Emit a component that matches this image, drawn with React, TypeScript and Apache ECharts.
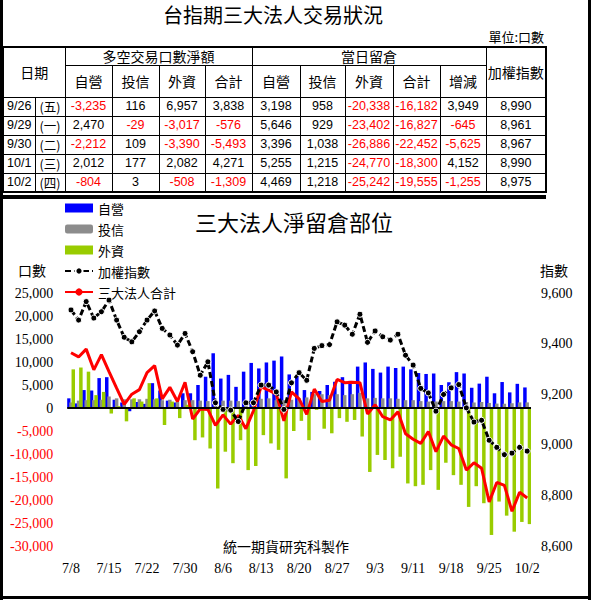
import React, { useEffect, useRef } from 'react';
import * as echarts from 'echarts';

// ---------- table data (top) ----------
const tableDates = ['9/26', '9/29', '9/30', '10/1', '10/2'];
const tableWeekdays = ['(五)', '(一)', '(二)', '(三)', '(四)'];
const netDealer = [-3235, 2470, -2212, 2012, -804];
const netTrust = [116, -29, 109, 177, 3];
const netForeign = [6957, -3017, -3390, 2082, -508];
const netTotal = [3838, -576, -5493, 4271, -1309];
const oiDealer = [3198, 5646, 3396, 5255, 4469];
const oiTrust = [958, 929, 1038, 1215, 1218];
const oiForeign = [-20338, -23402, -26886, -24770, -25242];
const oiTotal = [-16182, -16827, -22452, -18300, -19555];
const oiChange = [3949, -645, -5625, 4152, -1255];
const taiexClose = [8990, 8961, 8967, 8990, 8975];

// ---------- chart data ----------
const chartDates = [
  '7/8', '7/9', '7/10', '7/11', '7/14', '7/15', '7/16', '7/17', '7/18', '7/21',
  '7/22', '7/24', '7/25', '7/28', '7/29', '7/30', '7/31', '8/1', '8/4', '8/5',
  '8/6', '8/7', '8/8', '8/11', '8/12', '8/13', '8/14', '8/15', '8/18', '8/19',
  '8/20', '8/21', '8/22', '8/25', '8/26', '8/27', '8/28', '8/29', '9/1', '9/2',
  '9/3', '9/4', '9/5', '9/9', '9/10', '9/11', '9/12', '9/15', '9/16', '9/17',
  '9/18', '9/19', '9/22', '9/23', '9/24', '9/25', '9/26', '9/29', '9/30', '10/1',
  '10/2',
];
const dealerEarly = [
  2100, 1000, 3900, 3800, 6500, 6700, 1800, 1200, -700, 1300,
  900, 5400, 3800, 1600, 1200, 3200, 3200, 5000, 6800, 11900,
  6400, 7200, 4600, 7900, 9800, 8600, 9900, 10300, 11200, 7300,
  7000, 3900, 3500, 3700, 5000, 5700, 6700, 5900, 9000, 9900,
  8500, 7700, 9000, 8700, 9000, 8400, 7600, 7400, 7500, 5000,
  5600, 7800, 7500, 4400, 5300, 6800,
];
const trustEarly = [
  1200, 1600, 1700, 1700, 1800, 2500, 2100, 1900, 1900, 1900,
  2000, 1900, 1700, 1800, 1300, 1700, 1700, 1600, 1500, 1400,
  1600, 1600, 1500, 1600, 1700, 2000, 2100, 1700, 1700, 1800,
  2100, 2300, 3000, 3000, 2800, 3000, 2800, 3000, 3300, 2100,
  2200, 2100, 2100, 2000, 1700, 1700, 1500, 1400, 1400, 1500,
  1500, 1400, 1300, 1200, 1300, 1100,
];
const foreignEarly = [
  8400, 8800, 7900, 2800, 3500, -1200, 400, -2900, 2100, 1400,
  5400, 2100, -3700, 1400, -2200, 700, -7000, -6400, -8800, -17500,
  -9500, -12000, -7000, -13500, -12600, -5900, -7700, -9100, -15300, -5000,
  -2800, -7000, -400, -4500, -5500, -2200, -3000, -2600, -6200, -13900,
  -10200, -11300, -13100, -10600, -16400, -17000, -16700, -13500, -17800, -11900,
  -14600, -16700, -21500, -17000, -20700, -27600,
];
const totalEarly = [
  12000, 11100, 12800, 8300, 11600, 7900, 4300, 800, 3000, 4000,
  7700, 9200, 2000, 4500, 1400, 5600, -2400, -200, -300, -3800,
  -1500, -3500, -1600, -4500, -600, 4600, 3900, 3000, -2800, 3500,
  2000, -1400, 4100, 1400, 1700, 6200, 5500, 5600, 5500, -1300,
  700, -1900, -2600, -800, -5600, -6800, -7700, -5100, -9500, -6100,
  -8000, -8800, -13500, -11900, -13100, -20400,
];
const taiexEarly = [
  9533, 9493, 9566, 9501, 9526, 9572, 9493, 9425, 9407, 9447,
  9493, 9529, 9460, 9434, 9394, 9440, 9368, 9275, 9328, 9166,
  9140, 9137, 9092, 9166, 9166, 9236, 9236, 9209, 9140, 9245,
  9285, 9255, 9381, 9392, 9396, 9486, 9473, 9437, 9516, 9405,
  9450, 9427, 9414, 9437, 9354, 9315, 9223, 9205, 9133, 9199,
  9225, 9238, 9146, 9090, 9097, 9018,
];
const dealerSeries = [...dealerEarly, ...oiDealer];
const trustSeries = [...trustEarly, ...oiTrust];
const foreignSeries = [...foreignEarly, ...oiForeign];
const totalSeries = [...totalEarly, ...oiTotal];
const taiexSeries = [...taiexEarly, ...taiexClose];

const CJK = '"Noto Sans CJK TC", "Noto Sans CJK SC", sans-serif';
const NUM = '"Liberation Sans", Arial, sans-serif';
const SERIF = '"Liberation Serif", "Times New Roman", serif';

const fmt = (v: number) => v.toLocaleString('en-US');
const colWidths = [32, 30, 47, 47, 46, 47, 48, 45, 48, 47, 46, 60];

const cell: React.CSSProperties = {
  border: '1px solid #000',
  padding: 0,
  textAlign: 'center',
  fontSize: 13,
  lineHeight: '15px',
  overflow: 'hidden',
  whiteSpace: 'nowrap',
};

function NumCell({ v, color }: { v: number; color?: string }) {
  return (
    <td style={{ ...cell, fontFamily: NUM, fontSize: 12.5, color: color ?? (v < 0 ? '#ff0000' : '#000') }}>
      {fmt(v)}
    </td>
  );
}

function TopTable() {
  return (
    <>
      <div
        style={{
          position: 'absolute', left: 0, top: 2, width: 546, height: 26, lineHeight: '26px',
          textAlign: 'center', fontFamily: CJK, fontSize: 20, color: '#000',
        }}
      >
        台指期三大法人交易狀況
      </div>
      <div
        style={{
          position: 'absolute', right: 593 - 544, top: 29, height: 16, lineHeight: '16px',
          fontFamily: CJK, fontSize: 13, color: '#000',
        }}
      >
        單位:口數
      </div>
      <table
        style={{
          position: 'absolute', left: 2, top: 46, width: 543, borderCollapse: 'collapse',
          tableLayout: 'fixed', border: '2px solid #000', background: '#fff', fontFamily: CJK, color: '#000',
        }}
      >
        <colgroup>
          {colWidths.map((w, i) => (
            <col key={i} style={{ width: w }} />
          ))}
        </colgroup>
        <tbody>
          <tr style={{ height: 18 }}>
            <td style={{ ...cell, fontSize: 14 }} colSpan={2} rowSpan={2}>日期</td>
            <td style={{ ...cell, fontSize: 14 }} colSpan={4}>多空交易口數淨額</td>
            <td style={{ ...cell, fontSize: 14 }} colSpan={5}>當日留倉</td>
            <td style={{ ...cell, fontSize: 14 }} rowSpan={2}>加權指數</td>
          </tr>
          <tr style={{ height: 32 }}>
            {['自營', '投信', '外資', '合計', '自營', '投信', '外資', '合計', '增減'].map((h, i) => (
              <td key={i} style={{ ...cell, fontSize: 14 }}>{h}</td>
            ))}
          </tr>
          {tableDates.map((d, r) => (
            <tr key={d} style={{ height: 19 }}>
              <td style={{ ...cell, fontFamily: NUM, fontSize: 12.5 }}>{d}</td>
              <td style={{ ...cell, fontSize: 12.5 }}>{tableWeekdays[r]}</td>
              <NumCell v={netDealer[r]} />
              <NumCell v={netTrust[r]} />
              <NumCell v={netForeign[r]} />
              <NumCell v={netTotal[r]} />
              <NumCell v={oiDealer[r]} />
              <NumCell v={oiTrust[r]} />
              <NumCell v={oiForeign[r]} />
              <NumCell v={oiTotal[r]} />
              <NumCell v={oiChange[r]} />
              <NumCell v={taiexClose[r]} color="#000" />
            </tr>
          ))}
        </tbody>
      </table>
    </>
  );
}

export default function App() {
  const ref = useRef<HTMLDivElement>(null);

  useEffect(() => {
    if (!ref.current) return;
    const chart = echarts.init(ref.current, null, { renderer: 'svg' });
    const axisFont = { fontFamily: SERIF, fontSize: 14, color: '#000' };
    chart.setOption({
      animation: false,
      backgroundColor: '#ffffff',
      title: {
        text: '三大法人淨留倉部位',
        left: 195,
        top: 210,
        padding: 0,
        textStyle: { fontFamily: CJK, fontSize: 22, fontWeight: 'normal', color: '#000' },
      },
      legend: {
        orient: 'vertical',
        left: 64,
        top: 201,
        itemWidth: 28,
        itemHeight: 9,
        itemGap: 7,
        padding: 0,
        textStyle: { fontFamily: CJK, fontSize: 13, lineHeight: 14, color: '#000' },
        data: [
          { name: '自營', icon: 'rect' },
          { name: '投信', icon: 'roundRect' },
          { name: '外資', icon: 'rect' },
          '加權指數',
          '三大法人合計',
        ],
      },
      grid: { left: 67.2, right: 62, top: 293, bottom: 54, containLabel: false },
      xAxis: {
        type: 'category',
        data: chartDates,
        boundaryGap: true,
        axisLine: { show: false, onZero: false },
        axisTick: { show: false },
        axisLabel: { ...axisFont, interval: 4, margin: 15 },
        splitLine: { show: false },
      },
      yAxis: [
        {
          type: 'value',
          position: 'left',
          min: -30000,
          max: 25000,
          interval: 5000,
          axisLine: { show: false },
          axisTick: { show: false },
          splitLine: { show: false },
          axisLabel: {
            ...axisFont,
            margin: 14,
            formatter: (v: number) => fmt(Number(v)),
            color: (v: any) => (Number(v) < 0 ? '#ff0000' : '#000000'),
          },
        },
        {
          type: 'value',
          position: 'right',
          min: 8600,
          max: 9600,
          interval: 200,
          axisLine: { show: false },
          axisTick: { show: false },
          splitLine: { show: false },
          axisLabel: { ...axisFont, margin: 10, formatter: (v: number) => fmt(Number(v)) },
        },
      ],
      series: [
        {
          name: '自營',
          type: 'bar',
          data: dealerSeries,
          barWidth: 3.5,
          barGap: '-35%',
          itemStyle: { color: '#0000ff' },
        },
        {
          name: '投信',
          type: 'bar',
          data: trustSeries,
          barWidth: 3.5,
          barGap: '-35%',
          itemStyle: { color: '#8c8c8c' },
        },
        {
          name: '外資',
          type: 'bar',
          data: foreignSeries,
          barWidth: 3.5,
          barGap: '-35%',
          itemStyle: { color: '#99cc00' },
          markLine: {
            silent: true,
            symbol: ['none', 'none'],
            label: { show: false },
            lineStyle: { color: '#000', width: 2, type: 'solid' },
            data: [{ yAxis: 0 }],
          },
        },
        {
          name: '三大法人合計',
          type: 'line',
          data: totalSeries,
          symbol: 'none',
          lineStyle: { color: '#ff0000', width: 3 },
          itemStyle: { color: '#ff0000' },
          z: 4,
        },
        {
          name: '加權指數',
          type: 'line',
          yAxisIndex: 1,
          data: taiexSeries,
          symbol: 'circle',
          symbolSize: 6,
          showAllSymbol: true,
          lineStyle: { color: '#000', width: 3, type: [6, 3] },
          itemStyle: { color: '#000', borderColor: '#fff', borderWidth: 1 },
          z: 5,
        },
      ],
      graphic: [
        { type: 'rect', shape: { x: 0, y: 0, width: 3, height: 600 }, style: { fill: '#000' }, silent: true },
        { type: 'rect', shape: { x: 588, y: 0, width: 3, height: 600 }, style: { fill: '#000' }, silent: true },
        { type: 'rect', shape: { x: 0, y: 596, width: 591, height: 3 }, style: { fill: '#000' }, silent: true },
        { type: 'rect', shape: { x: 0, y: 195, width: 546, height: 4 }, style: { fill: '#000' }, silent: true },
        {
          type: 'text', x: 32, y: 270, silent: true,
          style: { text: '口數', fontFamily: CJK, fontSize: 14, fill: '#000', align: 'center', verticalAlign: 'middle' },
        },
        {
          type: 'text', x: 554, y: 270, silent: true,
          style: { text: '指數', fontFamily: CJK, fontSize: 14, fill: '#000', align: 'center', verticalAlign: 'middle' },
        },
        {
          type: 'text', x: 286, y: 546, silent: true,
          style: { text: '統一期貨研究科製作', fontFamily: CJK, fontSize: 14, fill: '#000', align: 'center', verticalAlign: 'middle' },
        },
      ],
    });
    return () => chart.dispose();
  }, []);

  return (
    <div style={{ position: 'absolute', left: 0, top: 0, width: 593, height: 600, background: '#fff', overflow: 'hidden' }}>
      <div ref={ref} style={{ position: 'absolute', left: 0, top: 0, width: 593, height: 600 }} />
      <TopTable />
    </div>
  );
}
